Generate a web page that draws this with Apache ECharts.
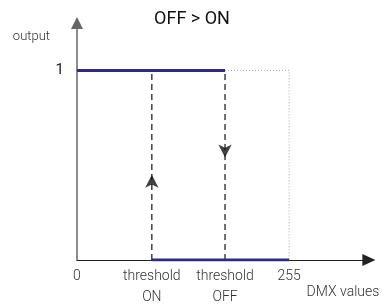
<!DOCTYPE html>
<html>
<head>
<meta charset="utf-8">
<script src="https://cdn.jsdelivr.net/npm/echarts@6/dist/echarts.min.js"></script>
<style>
  html, body { margin: 0; padding: 0; background: #fff; }
  #chart { width: 382px; height: 308px; }
</style>
</head>
<body>
<div id="chart"></div>
<script>
// DMX values where output switches
const thresholdOn = 90
const thresholdOff = 178
const dmxMax = 255
// x tick labels
const xTickValues = [0, thresholdOn, thresholdOff, dmxMax]
const xTickLabels = ['0', 'threshold\nON', 'threshold\nOFF', '255']
const yTickValues = [1]
// output lines
const highLine = [[0, 1], [thresholdOff, 1]]
const lowLine = [[thresholdOn, 0], [dmxMax, 0]]
const onDashed = [[thresholdOn, 0], [thresholdOn, 1]]
const offDashed = [[thresholdOff, 0], [thresholdOff, 1]]
const dottedEdge = [[thresholdOff, 1], [dmxMax, 1], [dmxMax, 0]]
// arrow heads on dashed lines
const upArrow = [[thresholdOn, 0.45]]
const downArrow = [[thresholdOff, 0.54]]

const chart = echarts.init(document.getElementById('chart'))

const font = 'Roboto'
let option = {
  animation: false,
  title: {
    text: 'OFF > ON',
    left: 187,
    top: 5,
    textAlign: 'center',
    textStyle: { fontFamily: font, fontSize: 18, fontWeight: 400, color: '#111' }
  },
  grid: { left: 77, right: 12, top: 23, bottom: 45 },
  xAxis: {
    type: 'value',
    min: 0,
    max: 351,
    name: 'DMX values',
    nameLocation: 'end',
    nameGap: 0,
    nameTextStyle: {
      fontFamily: font, fontSize: 14, fontWeight: 300, color: '#333',
      align: 'right', verticalAlign: 'top', padding: [25, 0, 0, 0]
    },
    axisLine: {
      lineStyle: { color: '#222', width: 1 },
      symbol: ['none', 'triangle'],
      symbolSize: [12, 13]
    },
    axisTick: { show: false },
    splitLine: { show: false },
    axisLabel: {
      customValues: xTickValues,
      formatter: v => xTickLabels[xTickValues.indexOf(v)],
      fontFamily: font, fontSize: 14, fontWeight: 300, color: '#333',
      lineHeight: 21, margin: 6, verticalAlign: 'top'
    }
  },
  yAxis: {
    type: 'value',
    min: 0,
    max: 1.25,
    name: 'output',
    nameLocation: 'end',
    nameGap: -14,
    nameTextStyle: {
      fontFamily: font, fontSize: 13, fontWeight: 300, color: '#333',
      align: 'right', verticalAlign: 'middle', padding: [0, 27, 0, 0]
    },
    axisLine: {
      show: true,
      lineStyle: { color: '#666', width: 1.5 },
      symbol: ['none', 'triangle'],
      symbolSize: [12, 12]
    },
    axisTick: { show: false },
    splitLine: { show: false },
    axisLabel: {
      customValues: yTickValues,
      fontFamily: font, fontSize: 15, color: '#222', margin: 13
    }
  },
  series: [
    {
      type: 'line', data: dottedEdge, symbol: 'none',
      lineStyle: { color: '#aaa', width: 1, type: [1, 2] }
    },
    {
      type: 'line', data: onDashed, symbol: 'none',
      lineStyle: { color: '#111', width: 1.2, type: [6, 4] }
    },
    {
      type: 'line', data: offDashed, symbol: 'none',
      lineStyle: { color: '#111', width: 1.2, type: [6, 4] }
    },
    {
      type: 'line', data: highLine, symbol: 'none',
      lineStyle: { color: '#2f2a86', width: 3 }
    },
    {
      type: 'line', data: lowLine, symbol: 'none',
      lineStyle: { color: '#2f2a86', width: 3 }
    },
    {
      type: 'scatter', data: upArrow, symbol: 'arrow', symbolSize: [10, 13],
      itemStyle: { color: '#111' }
    },
    {
      type: 'scatter', data: downArrow, symbol: 'arrow', symbolSize: [10, 13],
      symbolRotate: 180, itemStyle: { color: '#111' }
    }
  ]
}
chart.setOption(option)
</script>
</body>
</html>
